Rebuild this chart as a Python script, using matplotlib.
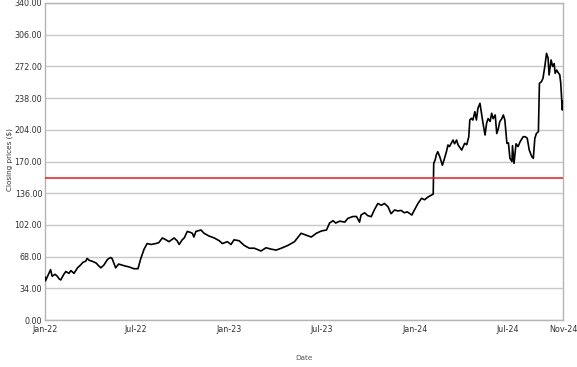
import matplotlib
matplotlib.use("Agg")
import matplotlib.pyplot as plt
import pandas as pd

dates = [
    "2022-01-03", "2022-01-04", "2022-01-09", "2022-01-14", "2022-01-17", "2022-01-23", "2022-01-27", "2022-01-31",
    "2022-02-03", "2022-02-09", "2022-02-13", "2022-02-19", "2022-02-23", "2022-03-01", "2022-03-08", "2022-03-14",
    "2022-03-19", "2022-03-24", "2022-03-27", "2022-03-31", "2022-04-06", "2022-04-14", "2022-04-17", "2022-04-23",
    "2022-04-29", "2022-05-06", "2022-05-12", "2022-05-15", "2022-05-22", "2022-05-28", "2022-06-03", "2022-06-09",
    "2022-06-17", "2022-06-27", "2022-07-05", "2022-07-10", "2022-07-17", "2022-07-23", "2022-07-31", "2022-08-09",
    "2022-08-15", "2022-08-22", "2022-08-29", "2022-09-04", "2022-09-14", "2022-09-20", "2022-09-24", "2022-09-30",
    "2022-10-04", "2022-10-10", "2022-10-16", "2022-10-20", "2022-10-23", "2022-10-27", "2022-11-06", "2022-11-12",
    "2022-11-22", "2022-12-02", "2022-12-12", "2022-12-18", "2022-12-28", "2023-01-04", "2023-01-10", "2023-01-20",
    "2023-01-30", "2023-02-09", "2023-02-19", "2023-03-04", "2023-03-14", "2023-03-24", "2023-04-03", "2023-04-13",
    "2023-04-26", "2023-05-09", "2023-05-22", "2023-06-01", "2023-06-11", "2023-06-21", "2023-07-01", "2023-07-11",
    "2023-07-17", "2023-07-24", "2023-07-29", "2023-08-06", "2023-08-16", "2023-08-22", "2023-09-01", "2023-09-08",
    "2023-09-14", "2023-09-17", "2023-09-24", "2023-09-30", "2023-10-07", "2023-10-13", "2023-10-20", "2023-10-27",
    "2023-11-02", "2023-11-09", "2023-11-15", "2023-11-22", "2023-11-28", "2023-12-05", "2023-12-11", "2023-12-17",
    "2023-12-26", "2023-12-31", "2024-01-07", "2024-01-14", "2024-01-20", "2024-01-27", "2024-02-06", "2024-02-07",
    "2024-02-10", "2024-02-12", "2024-02-15", "2024-02-19", "2024-02-24", "2024-02-28", "2024-03-03", "2024-03-06",
    "2024-03-09", "2024-03-16", "2024-03-19", "2024-03-23", "2024-03-26", "2024-04-02", "2024-04-05", "2024-04-08",
    "2024-04-12", "2024-04-16", "2024-04-18", "2024-04-21", "2024-04-24", "2024-04-28", "2024-05-01", "2024-05-04",
    "2024-05-08", "2024-05-11", "2024-05-14", "2024-05-18", "2024-05-21", "2024-05-24", "2024-05-28", "2024-05-31",
    "2024-06-03", "2024-06-07", "2024-06-10", "2024-06-13", "2024-06-16", "2024-06-20", "2024-06-23", "2024-06-26",
    "2024-06-30", "2024-07-03", "2024-07-06", "2024-07-10", "2024-07-11", "2024-07-14", "2024-07-18", "2024-07-22",
    "2024-07-26", "2024-08-01", "2024-08-05", "2024-08-09", "2024-08-13", "2024-08-18", "2024-08-21", "2024-08-24",
    "2024-08-27", "2024-08-31", "2024-09-02", "2024-09-06", "2024-09-09", "2024-09-13", "2024-09-16", "2024-09-19",
    "2024-09-21", "2024-09-25", "2024-09-28", "2024-10-01", "2024-10-03", "2024-10-06", "2024-10-08", "2024-10-12",
    "2024-10-14", "2024-10-17", "2024-10-18",
]

prices = [
    46, 42, 48, 54, 47, 49, 47, 44,
    43, 49, 52, 50, 53, 50, 56, 59,
    62, 63, 66, 64, 63, 61, 59, 56,
    59, 65, 67, 66, 56, 60, 59, 58,
    57, 55, 55, 65, 76, 82, 81, 82,
    83, 88, 86, 84, 88, 85, 81, 86,
    88, 95, 94, 93, 89, 95, 96.5, 93,
    90, 88, 85, 82, 84, 81, 86, 85,
    80, 77, 77, 74, 77.5, 76, 75, 77,
    80, 84, 93, 91, 89, 93, 95.5, 96.5,
    104, 106.5, 104, 106, 105, 109, 111, 111,
    105, 112.6, 115, 112, 110.8, 118, 125, 123,
    125, 121.5, 114, 118, 117, 117.5, 115, 116,
    112.6, 118, 125, 130.5, 129, 132, 135, 168,
    172, 177, 180.5, 175, 166, 173, 180.5, 187.7,
    186, 193, 189, 193, 187.7, 182.3, 186, 189.5,
    188, 196.6, 214.5, 216.3, 214.5, 223.4, 214.5, 227,
    232.4, 221.7, 211, 198.4, 211, 216, 213, 221.7,
    216, 219.9, 200, 205, 212.7, 216, 219.9, 214.5,
    189.5, 190, 173.4, 170, 187, 168, 189, 186,
    191.2, 196.6, 196.6, 195, 182.3, 175.2, 173.4, 194.9,
    200, 202, 253.9, 255.6, 259.2, 273.5, 286, 281,
    262.8, 278.9, 272, 275, 264.6, 268, 266, 263,
    253.9, 225.2, 235,
]

threshold = 152
y_ticks = [0, 34, 68, 102, 136, 170, 204, 238, 272, 306, 340]
x_tick_dates = ["2022-01-03", "2022-07-01", "2023-01-01", "2023-07-01", "2024-01-01", "2024-07-01", "2024-10-19"]
x_tick_labels = ["Jan-22", "Jul-22", "Jan-23", "Jul-23", "Jan-24", "Jul-24", "Nov-24"]

d = pd.to_datetime(dates)

fig = plt.figure(figsize=(5.77, 3.67), dpi=100)
ax = fig.add_axes([45 / 577, 1 - 320 / 367, (563.3 - 45) / 577, (320 - 3) / 367])

ax.plot(d, prices, color="black", linewidth=1.2, zorder=3)
ax.axhline(threshold, color="#e41a1c", linewidth=1.1, zorder=4)

ax.set_ylim(0, 340)
ax.set_xlim(pd.Timestamp("2022-01-03"), pd.Timestamp("2024-10-19"))
ax.set_yticks(y_ticks)
ax.set_yticklabels([f"{v:.2f}" for v in y_ticks])
ax.set_xticks(pd.to_datetime(x_tick_dates))
ax.set_xticklabels(x_tick_labels)

ax.grid(axis="y", color="#c8c8c8", linewidth=1.0)
ax.grid(axis="x", visible=False)
ax.set_axisbelow(True)
for s in ax.spines.values():
    s.set_color("#b4b4b4")
    s.set_linewidth(1.0)

ax.tick_params(axis="both", length=0, labelsize=5.8, colors="#333333")
ax.tick_params(axis="y", pad=2)
ax.tick_params(axis="x", pad=3.5)

fig.text(10 / 577, 1 - 160 / 367, "Closing prices ($)", fontsize=5.2, color="#333333",
         rotation=90, ha="center", va="center")
fig.text(304 / 577, 1 - 358 / 367, "Date", fontsize=5.2, color="#555555", ha="center", va="center")

fig.savefig("out.png", dpi=100)
